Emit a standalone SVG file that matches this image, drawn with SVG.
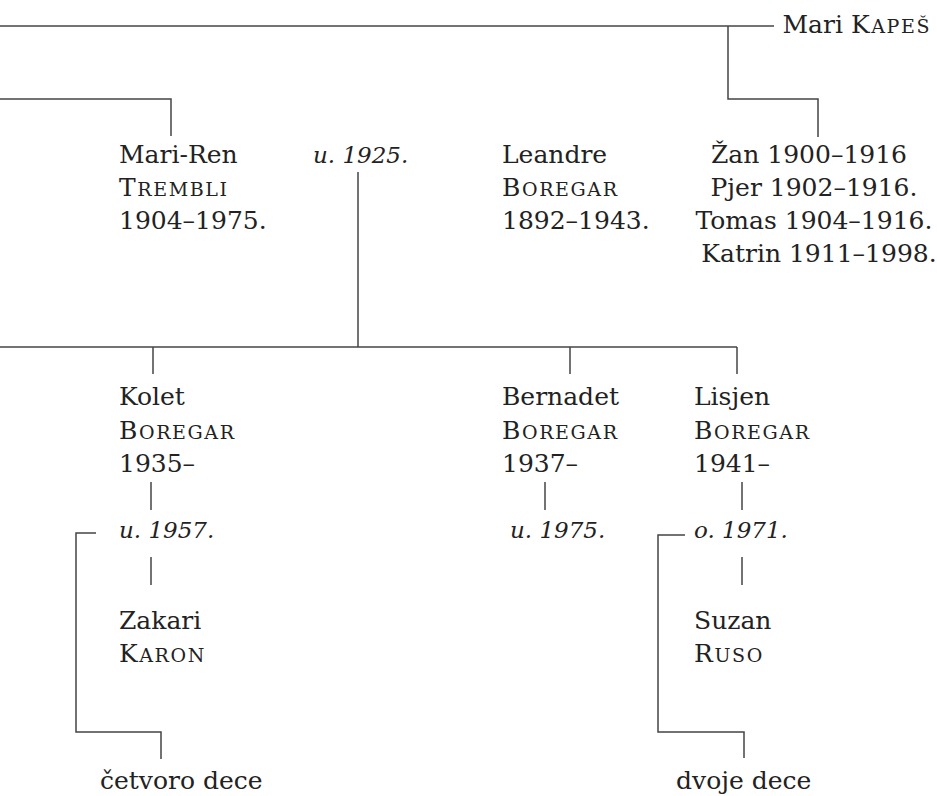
<svg xmlns="http://www.w3.org/2000/svg" width="937" height="796" viewBox="0 0 937 796">
<style>
  text { font-family: "DejaVu Serif", "Liberation Serif", serif; font-size: 25px; fill: #222; }
  .it { font-style: italic; font-size: 23px; }
  .sc { font-variant: small-caps; font-size: 27px; letter-spacing: 1.6px; }
  .cap { font-size: 25px; }
  .mid { text-anchor: middle; }
  .end { text-anchor: end; }
  .ln { fill: none; stroke: #444; stroke-width: 1.5; }
</style>
<rect width="937" height="796" fill="#fff"/>
<g id="connectors">
  <path class="ln" d="M0 26 H774"/>
  <path class="ln" d="M728 26 V99 H818 V137"/>
  <path class="ln" d="M0 99 H171 V136"/>
  <path class="ln" d="M358 172 V347"/>
  <path class="ln" d="M0 347 H737"/>
  <path class="ln" d="M153 347 V374"/>
  <path class="ln" d="M570 347 V374"/>
  <path class="ln" d="M737 347 V374"/>
  <path class="ln" d="M151 482 V510"/>
  <path class="ln" d="M151 557 V585"/>
  <path class="ln" d="M96 533 H76 V732 H161 V759"/>
  <path class="ln" d="M545 482 V510"/>
  <path class="ln" d="M742 482 V510"/>
  <path class="ln" d="M742 557 V585"/>
  <path class="ln" d="M685 535 H658 V732 H744 V758"/>
</g>
<g id="mari-kapes">
  <text x="931" y="33" class="end">Mari <tspan class="sc" letter-spacing="0.5"><tspan class="cap">K</tspan>apeš</tspan></text>
</g>
<g id="mari-ren-trembli">
  <text x="119" y="163">Mari-Ren</text>
  <text x="119" y="196" class="sc"><tspan class="cap">T</tspan>rembli</text>
  <text x="119" y="229">1904–1975.</text>
</g>
<g id="marriage-1925">
  <text x="313" y="163" class="it">u. 1925.</text>
</g>
<g id="leandre-boregar">
  <text x="502" y="163">Leandre</text>
  <text x="502" y="196" class="sc"><tspan class="cap">B</tspan>oregar</text>
  <text x="502" y="229">1892–1943.</text>
</g>
<g id="kapes-children">
  <text x="809" y="163" class="mid">Žan 1900–1916</text>
  <text x="814" y="196" class="mid">Pjer 1902–1916.</text>
  <text x="814" y="229" class="mid">Tomas 1904–1916.</text>
  <text x="819" y="262" class="mid">Katrin 1911–1998.</text>
</g>
<g id="kolet-boregar">
  <text x="119" y="405">Kolet</text>
  <text x="119" y="439" class="sc"><tspan class="cap">B</tspan>oregar</text>
  <text x="119" y="472">1935–</text>
</g>
<g id="marriage-1957">
  <text x="119" y="538" class="it">u. 1957.</text>
</g>
<g id="zakari-karon">
  <text x="119" y="629">Zakari</text>
  <text x="119" y="662" class="sc"><tspan class="cap">K</tspan>aron</text>
</g>
<g id="cetvoro-dece">
  <text x="100" y="789">četvoro dece</text>
</g>
<g id="bernadet-boregar">
  <text x="502" y="405">Bernadet</text>
  <text x="502" y="439" class="sc"><tspan class="cap">B</tspan>oregar</text>
  <text x="502" y="472">1937–</text>
</g>
<g id="marriage-1975">
  <text x="510" y="538" class="it">u. 1975.</text>
</g>
<g id="lisjen-boregar">
  <text x="694" y="405">Lisjen</text>
  <text x="694" y="439" class="sc"><tspan class="cap">B</tspan>oregar</text>
  <text x="694" y="472">1941–</text>
</g>
<g id="marriage-1971">
  <text x="694" y="538" class="it">o. 1971.</text>
</g>
<g id="suzan-ruso">
  <text x="694" y="629">Suzan</text>
  <text x="694" y="662" class="sc"><tspan class="cap">R</tspan>uso</text>
</g>
<g id="dvoje-dece">
  <text x="676" y="789">dvoje dece</text>
</g>
</svg>
